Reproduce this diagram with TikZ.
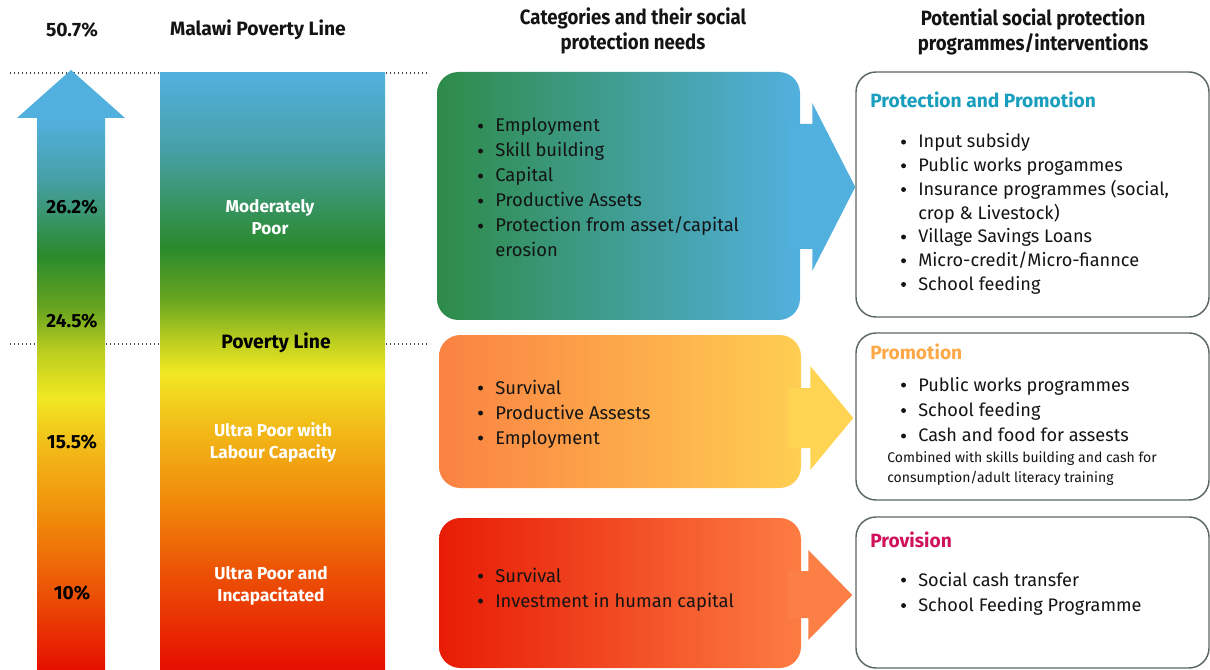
\documentclass[tikz,border=0pt]{standalone}
\usepackage{fontspec}
\setmainfont{Fira Sans}
\newfontfamily\condfont[FakeStretch=0.9]{Fira Sans}
\usetikzlibrary{calc}
\definecolor{blueC}{HTML}{52B0DF}
\definecolor{tealC}{HTML}{46A0A6}
\definecolor{greenC}{HTML}{2A8A2C}
\definecolor{lgreenC}{HTML}{6AA620}
\definecolor{ygreenC}{HTML}{BACD20}
\definecolor{yellowC}{HTML}{F2E822}
\definecolor{yorangeC}{HTML}{F2B918}
\definecolor{orangeC}{HTML}{F08A0A}
\definecolor{rorangeC}{HTML}{EC5406}
\definecolor{redC}{HTML}{E60E00}
\definecolor{b1L}{HTML}{2E8B48}
\definecolor{b2L}{HTML}{FA8242}
\definecolor{b2R}{HTML}{FFCE52}
\definecolor{ar2}{HTML}{FFD452}
\definecolor{b3L}{HTML}{E81C06}
\definecolor{b3R}{HTML}{FC7C42}
\definecolor{ar3}{HTML}{FC8046}
\definecolor{tA}{HTML}{1A9EBE}
\definecolor{tB}{HTML}{FFA847}
\definecolor{tC}{HTML}{D0115C}
\definecolor{bordC}{HTML}{5C6863}
\definecolor{txt}{HTML}{141414}
\definecolor{dotC}{HTML}{444444}
\pgfdeclareverticalshading{barshade}{100bp}{color(0bp)=(redC); color(25bp)=(redC); color(33.4bp)=(rorangeC); color(39.25bp)=(orangeC); color(45.1bp)=(yorangeC); color(49.85bp)=(yellowC); color(52.65bp)=(ygreenC); color(56bp)=(lgreenC); color(60.35bp)=(greenC); color(68.55bp)=(tealC); color(75bp)=(blueC); color(100bp)=(blueC)}
\pgfdeclareverticalshading{arrowshade}{100bp}{color(0bp)=(redC); color(25bp)=(redC); color(31.65bp)=(rorangeC); color(37.5bp)=(orangeC); color(43.35bp)=(yorangeC); color(47.65bp)=(yellowC); color(51.65bp)=(ygreenC); color(55bp)=(lgreenC); color(59.6bp)=(greenC); color(65.85bp)=(tealC); color(71bp)=(blueC); color(100bp)=(blueC)}
\newcommand\bl{\llap{\raisebox{2.6pt}{\tikz\fill[txt] (0,0) circle (1.85pt);}\hspace{9.2pt}}}
\tikzset{
  dotline/.style={draw=dotC, line width=1.2pt, dash pattern=on 1.1pt off 1.9pt},
  hd/.style={font=\bfseries\fontsize{14.5}{18.75}\selectfont, text=txt, inner sep=0},
  hdc/.style={font=\condfont\bfseries\fontsize{15.5}{18.75}\selectfont, text=txt, inner sep=0, align=center},
  pct/.style={font=\bfseries\fontsize{14.3}{16}\selectfont, text=black, inner sep=0},
  barlbl/.style={font=\bfseries\fontsize{12.9}{16.5}\selectfont, text=white, inner sep=0, align=center},
  lst/.style={anchor=base west, inner sep=0, text=txt, font=\fontsize{13.8}{18.75}\selectfont},
  lstA/.style={anchor=base west, inner sep=0, text=txt, font=\fontsize{13.6}{17.8}\selectfont},
  lstB/.style={anchor=base west, inner sep=0, text=txt, font=\fontsize{13.6}{19.1}\selectfont},
  small/.style={anchor=base west, inner sep=0, text=txt, font=\fontsize{10.5}{15}\selectfont},
  rtitle/.style={anchor=base west, inner sep=0, font=\bfseries\fontsize{14.4}{16}\selectfont},
  catbox/.style={rounded corners=16pt, inner sep=0},
  rbox/.style={draw=bordC, line width=1.1pt, fill=white, rounded corners=15pt, inner sep=0, minimum width={353*0.75pt}}
}
\begin{document}
\begin{tikzpicture}[x=0.75pt,y=-0.75pt]
\useasboundingbox (0,0) rectangle (1210,670);
% dotted guide lines
\draw[dotline] (10,73) -- (428,73);
\draw[dotline] (10,344) -- (430,344);
% left arrow
\shade[shading=arrowshade] (37,670) -- (37,118) -- (17,118) -- (71,70) -- (125,118) -- (105,118) -- (105,670) -- cycle;
% bar
\node[shading=barshade, inner sep=0, minimum width={225*0.75pt}, minimum height={597*0.75pt}] (bar) at (272.5,371.5) {};
% headings
\node[hd] (h1) at (72,30) {50.7\%};
\node[hd] (h2) at (258,30) {Malawi Poverty Line};
\node[hdc] (h3) at (633,31) {Categories and their social\\protection needs};
\node[hdc] (h4) at (1033,32) {Potential social protection\\programmes/interventions};
% percentages
\node[pct] (p1) at (72,207) {26.2\%};
\node[pct] (p2) at (72,321) {24.5\%};
\node[pct] (p3) at (72,442) {15.5\%};
\node[pct] (p4) at (72,593) {10\%};
% bar labels
\node[barlbl] (l1) at (270,217) {Moderately\\Poor};
\node[hd, text=black] (l2) at (276,343) {Poverty Line};
\node[barlbl] (l3) at (273,442) {Ultra Poor with\\Labour Capacity};
\node[barlbl] (l4) at (271,586) {Ultra Poor and\\Incapacitated};
% category boxes
\node[catbox, left color=b1L, right color=blueC, minimum width={363*0.75pt}, minimum height={248*0.75pt}] (c1) at (618.5,196) {};
\node[catbox, left color=b2L, right color=b2R, minimum width={362*0.75pt}, minimum height={153*0.75pt}] (c2) at (620,411.5) {};
\node[catbox, left color=b3L, right color=b3R, minimum width={362*0.75pt}, minimum height={150*0.75pt}] (c3) at (620,593) {};
% programme boxes
\node[rbox, minimum height={245*0.75pt}] (rA) at (1032.5,194.5) {};
\node[rbox, minimum height={167*0.75pt}] (rB) at (1032.5,416.5) {};
\node[rbox, minimum height={151*0.75pt}] (rC) at (1032.5,592.5) {};
% block arrows
\fill[blueC] ($(c1.east)+(-12,-72)$) -- ($(c1.east)+(12,-72)$) -- ($(c1.east)+(12,-93)$) -- ($(rA.west)+(0,-7.5)$) -- ($(c1.east)+(12,75)$) -- ($(c1.east)+(12,53)$) -- ($(c1.east)+(-12,53)$) -- cycle;
\fill[ar2] ($(c2.east)+(-13,-23.5)$) -- ($(c2.east)+(9,-23.5)$) -- ($(c2.east)+(9,-45.5)$) -- ($(rB.west)+(-2,1.5)$) -- ($(c2.east)+(9,58.5)$) -- ($(c2.east)+(9,36.5)$) -- ($(c2.east)+(-13,36.5)$) -- cycle;
\fill[ar3] ($(c3.east)+(-13,-22)$) -- ($(c3.east)+(7,-22)$) -- ($(c3.east)+(7,-43)$) -- ($(rC.west)+(-3,2.5)$) -- ($(c3.east)+(7,47)$) -- ($(c3.east)+(7,25)$) -- ($(c3.east)+(-13,25)$) -- cycle;
% category lists
\node[lst] (n1) at (495,132) {\begin{tabular}[t]{@{}l@{}}\bl Employment\\\bl Skill building\\\bl Capital\\\bl Productive Assets\\\bl Protection from asset/capital\\erosion\end{tabular}};
\node[lst] (n2) at (495,394) {\begin{tabular}[t]{@{}l@{}}\bl Survival\\\bl Productive Assests\\\bl Employment\end{tabular}};
\node[lst] (n3) at (495,582) {\begin{tabular}[t]{@{}l@{}}\bl Survival\\\bl Investment in human capital\end{tabular}};
% programme texts
\node[rtitle, text=tA] (tA) at (870,108) {Protection and Promotion};
\node[lstA] (mA) at (918,148) {\begin{tabular}[t]{@{}l@{}}\bl Input subsidy\\\bl Public works progammes\\\bl Insurance programmes (social,\\crop \& Livestock)\\\bl Village Savings Loans\\\bl Micro-credit/Micro-fiannce\\\bl School feeding\end{tabular}};
\node[rtitle, text=tB] (tB) at (870,359) {Promotion};
\node[lstB] (mB) at (918,391) {\begin{tabular}[t]{@{}l@{}}\bl Public works programmes\\\bl School feeding\\\bl Cash and food for assests\end{tabular}};
\node[small] (sB) at (887,462) {\begin{tabular}[t]{@{}l@{}}Combined with skills building and cash for\\consumption/adult literacy training\end{tabular}};
\node[rtitle, text=tC] (tC) at (870,547) {Provision};
\node[lstB] (mC) at (918,586) {\begin{tabular}[t]{@{}l@{}}\bl Social cash transfer\\\bl School Feeding Programme\end{tabular}};
\end{tikzpicture}
\end{document}
